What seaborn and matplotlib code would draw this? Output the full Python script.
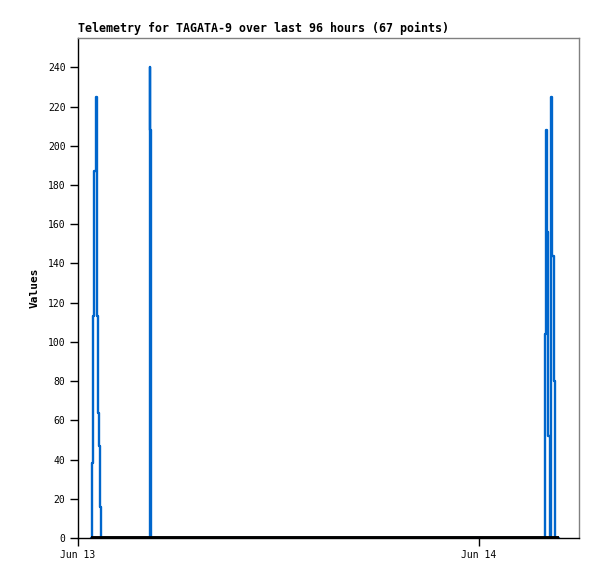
import matplotlib
matplotlib.use("Agg")
import matplotlib.pyplot as plt
import matplotlib.dates as mdates
import seaborn as sns
import pandas as pd

# hours since Jun 13 00:00
hours = [0.78, 0.84, 0.90, 0.98, 1.05, 1.11, 1.18, 1.26, 1.32, 1.38,
         1.9, 2.5, 3.1, 3.7,
         4.26, 4.30, 4.34, 4.39,
         5.0, 5.6, 6.3, 6.9, 7.5, 8.1, 8.8, 9.4, 10.0, 10.6, 11.3, 11.9,
         12.5, 13.1, 13.8, 14.4, 15.0, 15.6, 16.3, 16.9, 17.5, 18.1, 18.8,
         19.4, 20.0, 20.6, 21.3, 21.9, 22.5, 23.1, 23.8, 24.4, 25.0, 25.6,
         26.3, 26.9, 27.4, 27.7,
         27.93, 27.99, 28.05, 28.11, 28.17, 28.24, 28.32, 28.41, 28.50, 28.59,
         28.80]
values = [0, 38, 113, 187, 225, 113, 64, 47, 16, 0,
          0, 0, 0, 0,
          0, 240, 208, 0,
          0, 0, 0, 0, 0, 0, 0, 0, 0, 0, 0, 0,
          0, 0, 0, 0, 0, 0, 0, 0, 0, 0, 0,
          0, 0, 0, 0, 0, 0, 0, 0, 0, 0, 0,
          0, 0, 0, 0,
          0, 104, 208, 156, 52, 0, 225, 144, 80, 0,
          0]
yticks = list(range(0, 241, 20))
title = "Telemetry for TAGATA-9 over last 96 hours (67 points)"
start = pd.Timestamp("2024-06-13 00:00")
end = pd.Timestamp("2024-06-14 06:00")

df = pd.DataFrame({"time": start + pd.to_timedelta(hours, unit="h"), "value": values})

sns.set_style("ticks")
plt.rcParams["font.family"] = ["DejaVu Sans Mono"]
plt.rcParams["text.color"] = "black"

fig = plt.figure(figsize=(5.97, 5.79), dpi=100)
ax = fig.add_axes([78 / 597, 41 / 579, 501 / 597, 500 / 579])

sns.lineplot(data=df, x="time", y="value", ax=ax, color="#0066cc", linewidth=1.7,
             drawstyle="steps-post", zorder=2)
ax.hlines(0, df["time"].min(), df["time"].max(), color="black", linewidth=2.8, zorder=3)

ax.set_xlim(start, end)
ax.set_ylim(0, 255)
ax.set_yticks(yticks)
ax.set_xticks([pd.Timestamp("2024-06-13"), pd.Timestamp("2024-06-14")])
ax.xaxis.set_major_formatter(mdates.DateFormatter("%b %d"))
ax.tick_params(axis="both", labelsize=7, length=6, width=1, colors="black", pad=3)

ax.set_xlabel("")
ax.set_ylabel("Values", fontsize=8, fontweight="bold", labelpad=6, color="black")
ax.set_title(title, loc="left", fontsize=8.4, fontweight="bold", pad=4, color="black")

for s in ["left", "bottom"]:
    ax.spines[s].set_color("black")
    ax.spines[s].set_linewidth(1)
for s in ["top", "right"]:
    ax.spines[s].set_color("#808080")
    ax.spines[s].set_linewidth(1)

fig.savefig("out.png", dpi=100)
